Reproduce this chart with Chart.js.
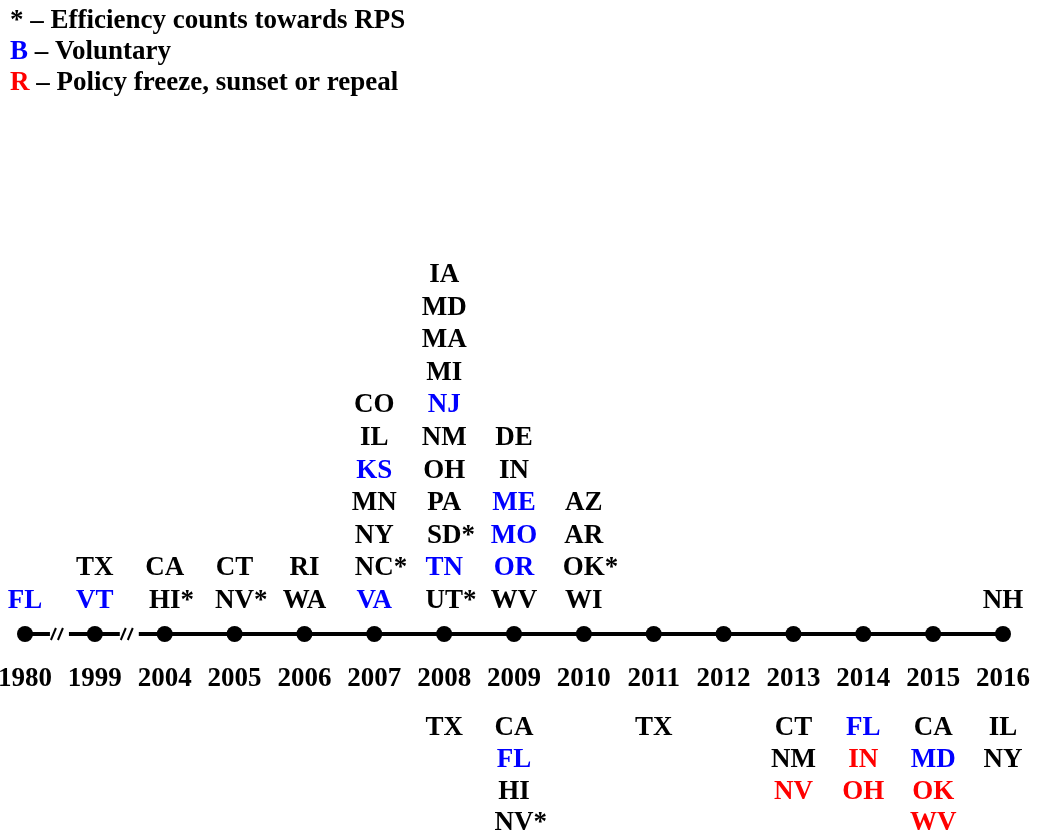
<!DOCTYPE html>
<html>
<head>
<meta charset="utf-8">
<script src="https://cdn.jsdelivr.net/npm/chart.js@4.4.1/dist/chart.umd.min.js"></script>
<style>
  body { margin: 0; background: #fff; }
  #wrap { width: 1039px; height: 834px; position: relative; }
</style>
</head>
<body>
<div id="wrap"><canvas id="timeline"></canvas></div>
<script>
// timeline years (categories)
var years = ['1980','1999','2004','2005','2006','2007','2008','2009','2010','2011','2012','2013','2014','2015','2016'];

// states adopting / changing RPS, listed top to bottom
var aboveStates = [
  ['FL'], ['TX','VT'], ['CA','HI*'], ['CT','NV*'], ['RI','WA'],
  ['CO','IL','KS','MN','NY','NC*','VA'],
  ['IA','MD','MA','MI','NJ','NM','OH','PA','SD*','TN','UT*'],
  ['DE','IN','ME','MO','OR','WV'],
  ['AZ','AR','OK*','WI'],
  [], [], [], [], [], ['NH']
];
// n = mandatory, b = voluntary, r = freeze / sunset / repeal
var aboveKinds = [
  ['b'], ['n','b'], ['n','n'], ['n','n'], ['n','n'],
  ['n','n','b','n','n','n','b'],
  ['n','n','n','n','b','n','n','n','n','b','n'],
  ['n','n','b','b','b','n'],
  ['n','n','n','n'],
  [], [], [], [], [], ['n']
];
var belowStates = [
  [], [], [], [], [], [],
  ['TX'],
  ['CA','FL','HI','NV*'],
  [],
  ['TX'],
  [],
  ['CT','NM','NV'],
  ['FL','IN','OH'],
  ['CA','MD','OK','WV'],
  ['IL','NY']
];
var belowKinds = [
  [], [], [], [], [], [],
  ['n'],
  ['n','b','n','n'],
  [],
  ['n'],
  [],
  ['n','n','r'],
  ['b','r','r'],
  ['n','b','r','r'],
  ['n','n']
];
var legendLines = [
  ['*', ' \u2013 Efficiency counts towards RPS', 'n'],
  ['B', ' \u2013 Voluntary', 'b'],
  ['R', ' \u2013 Policy freeze, sunset or repeal', 'r']
];

var kindColor = { n: '#000000', b: '#0000ff', r: '#ff0000' };
var FONT = 'bold 27px "Liberation Serif", "Times New Roman", serif';

var timelineText = {
  id: 'timelineText',
  afterDatasetsDraw: function(chart) {
    var c = chart.ctx;
    var xs = chart.scales.x, ys = chart.scales.y;
    var lineY = ys.getPixelForValue(0);
    c.save();

    // axis breaks between 1980-1999 and 1999-2004
    [0, 1].forEach(function(i) {
      var mid = (xs.getPixelForValue(i) + xs.getPixelForValue(i + 1)) / 2;
      c.fillStyle = '#fff';
      c.fillRect(mid - 10, lineY - 4, 19, 8);
      c.strokeStyle = '#000';
      c.lineWidth = 2;
      [-7, 0].forEach(function(d) {
        c.beginPath();
        c.moveTo(mid + d - 2, lineY + 6);
        c.lineTo(mid + d + 3, lineY - 6);
        c.stroke();
      });
    });
    c.restore();
  },
  afterDraw: function(chart) {
    var c = chart.ctx;
    var xs = chart.scales.x, ys = chart.scales.y;
    var lineY = ys.getPixelForValue(0);
    c.save();
    c.font = FONT;
    c.textBaseline = 'alphabetic';
    c.textAlign = 'left';

    function put(txt, kind, cx, base) {
      var w = c.measureText(txt.replace('*', '')).width;
      c.fillStyle = kindColor[kind];
      c.fillText(txt, cx - w / 2, base);
    }

    years.forEach(function(y, i) {
      var x = xs.getPixelForValue(i);
      // year label
      c.fillStyle = '#000';
      c.textAlign = 'center';
      c.fillText(y, x, lineY + 52);
      c.textAlign = 'left';
      // above
      var a = aboveStates[i], n = a.length;
      a.forEach(function(s, k) {
        put(s, aboveKinds[i][k], x, lineY - 26 - (n - 1 - k) * 32.6);
      });
      // below
      belowStates[i].forEach(function(s, k) {
        put(s, belowKinds[i][k], x, lineY + 101 + k * 31.8);
      });
    });

    // legend
    legendLines.forEach(function(l, k) {
      var base = 28 + k * 31;
      c.fillStyle = kindColor[l[2]];
      c.fillText(l[0], 10, base);
      var w = c.measureText(l[0]).width;
      c.fillStyle = '#000';
      c.fillText(l[1], 10 + w, base);
    });
    c.restore();
  }
};

new Chart(document.getElementById('timeline').getContext('2d'), {
  type: 'line',
  data: {
    labels: years,
    datasets: [{
      data: years.map(function() { return 0; }),
      borderColor: '#000',
      borderWidth: 4,
      pointRadius: 8,
      pointBackgroundColor: '#000',
      pointBorderWidth: 0,
      pointHoverRadius: 8,
      clip: false
    }]
  },
  options: {
    responsive: true,
    maintainAspectRatio: false,
    animation: false,
    layout: { padding: { left: 25, right: 36, top: 442, bottom: 0 } },
    plugins: { legend: { display: false }, tooltip: { enabled: false } },
    scales: {
      x: { display: false },
      y: { display: false, min: -1, max: 1 }
    }
  },
  plugins: [timelineText]
});
</script>
</body>
</html>
